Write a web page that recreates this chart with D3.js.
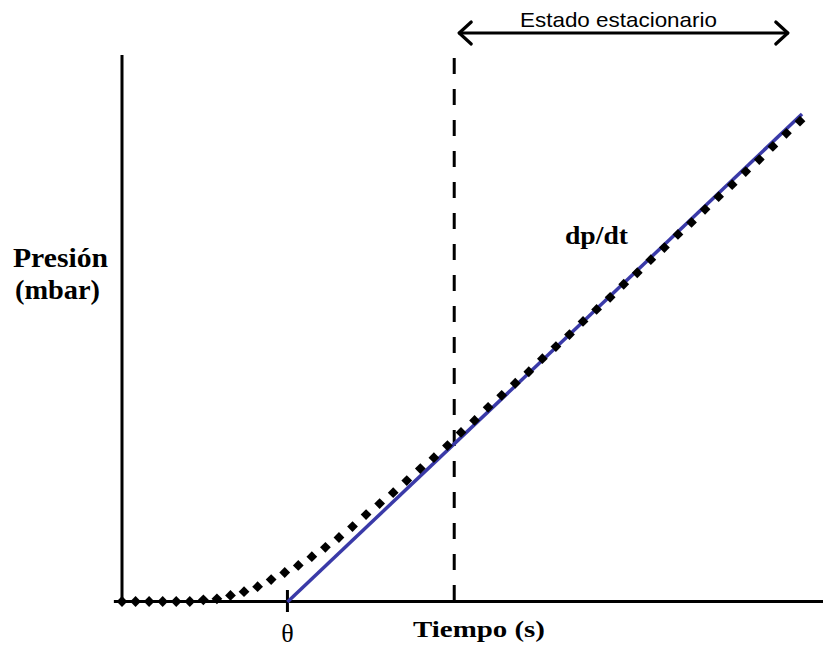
<!DOCTYPE html>
<html>
<head>
<meta charset="utf-8">
<script src="https://cdn.jsdelivr.net/npm/d3@7"></script>
<style>
  html, body { margin: 0; padding: 0; background: #fff; }
  svg { display: block; }
</style>
</head>
<body>
<svg id="chart" width="823" height="649"></svg>
<script>
// Measured pressure rise (arbitrary units) at equally spaced times
const times = d3.range(0, 51);
const pressure = [
  0, 0, 0, 0, 0, 0, 0.3, 0.5, 1.1, 1.8,
  2.7, 4.0, 5.3, 6.6, 8.2, 9.9, 11.7, 13.7, 15.9, 17.9,
  19.9, 22.1, 24.3, 26.3, 28.5, 30.9, 33.1, 35.5, 37.7, 39.9,
  42.0, 44.4, 46.6, 48.8, 51.2, 53.4, 55.6, 58.0, 60.1, 62.5,
  64.7, 67.1, 69.3, 71.7, 74.0, 76.2, 78.6, 80.8, 83.2, 85.6,
  87.8
];
// Steady-state tangent: starts at the time lag theta on the time axis
const tangentTimes = [12.2, 50.15];
const tangentPressure = [0, 89.2];
// Start of the steady state
const steadyStart = 24.5;
const steadyEnd = 49.1;

const svg = d3.select("#chart");
const x = d3.scaleLinear().domain([0, 50]).range([122, 800]);
const y = d3.scaleLinear().domain([0, 100]).range([602, 55]);

// Axes
svg.append("line")
  .attr("x1", x(0)).attr("x2", x(0))
  .attr("y1", y(100)).attr("y2", y(0))
  .attr("stroke", "#000").attr("stroke-width", 3);
svg.append("line")
  .attr("x1", x(-0.6)).attr("x2", 823)
  .attr("y1", y(0) - 0.5).attr("y2", y(0) - 0.5)
  .attr("stroke", "#000").attr("stroke-width", 3);

// Theta tick
svg.append("line")
  .attr("x1", x(tangentTimes[0])).attr("x2", x(tangentTimes[0]))
  .attr("y1", y(0) - 12).attr("y2", y(0) + 10)
  .attr("stroke", "#000").attr("stroke-width", 3);

// Steady-state boundary (dashed)
svg.append("line")
  .attr("x1", x(steadyStart)).attr("x2", x(steadyStart))
  .attr("y1", y(0) - 1).attr("y2", y(102))
  .attr("stroke", "#000").attr("stroke-width", 3)
  .attr("stroke-dasharray", "16,15");

// Tangent line dp/dt
const tangent = tangentTimes.map((t, i) => [t, tangentPressure[i]]);
svg.append("path")
  .attr("d", d3.line().x(d => x(d[0])).y(d => y(d[1]))(tangent))
  .attr("fill", "none")
  .attr("stroke", "#3a3aa8")
  .attr("stroke-width", 3.5);

// Pressure data points as diamonds
const sym = d3.symbol().type(d3.symbolSquare).size(58);
svg.append("g").selectAll("path")
  .data(times.map((t, i) => [t, pressure[i]]))
  .join("path")
  .attr("d", sym)
  .attr("transform", d => `translate(${x(d[0])},${y(d[1]) - 0.5}) rotate(45)`)
  .attr("fill", "#000");

// Double-headed arrow over the steady-state region
const ay = 33;
const ax1 = x(steadyStart) + 5, ax2 = x(steadyEnd);
const arrow = svg.append("g")
  .attr("stroke", "#000").attr("stroke-width", 3.2)
  .attr("fill", "none").attr("stroke-linecap", "round").attr("stroke-linejoin", "round");
arrow.append("line").attr("x1", ax1).attr("x2", ax2).attr("y1", ay).attr("y2", ay);
arrow.append("path").attr("d", `M${ax1 + 12},${ay - 11} L${ax1},${ay} L${ax1 + 12},${ay + 11}`);
arrow.append("path").attr("d", `M${ax2 - 12},${ay - 11} L${ax2},${ay} L${ax2 - 12},${ay + 11}`);

// Text
const serif = "'Liberation Serif', 'Times New Roman', serif";
const sans = "'Liberation Sans', Arial, sans-serif";

svg.append("text")
  .attr("x", 520).attr("y", 27)
  .attr("font-family", sans).attr("font-size", 21)
  .attr("textLength", 197).attr("lengthAdjust", "spacingAndGlyphs")
  .text("Estado estacionario");

svg.append("text")
  .attr("x", 565).attr("y", 244)
  .attr("font-family", serif).attr("font-weight", "bold").attr("font-size", 26)
  .attr("textLength", 63).attr("lengthAdjust", "spacingAndGlyphs")
  .text("dp/dt");

svg.append("text")
  .attr("x", 13).attr("y", 267)
  .attr("font-family", serif).attr("font-weight", "bold").attr("font-size", 27)
  .attr("textLength", 95).attr("lengthAdjust", "spacingAndGlyphs")
  .text("Presión");
svg.append("text")
  .attr("x", 15).attr("y", 299)
  .attr("font-family", serif).attr("font-weight", "bold").attr("font-size", 27)
  .attr("textLength", 85).attr("lengthAdjust", "spacingAndGlyphs")
  .text("(mbar)");

svg.append("text")
  .attr("x", 413).attr("y", 637)
  .attr("font-family", serif).attr("font-weight", "bold").attr("font-size", 24)
  .attr("textLength", 132).attr("lengthAdjust", "spacingAndGlyphs")
  .text("Tiempo (s)");

svg.append("text")
  .attr("x", x(tangentTimes[0])).attr("y", 642)
  .attr("text-anchor", "middle")
  .attr("font-family", serif).attr("font-size", 26)
  .text("θ");
</script>
</body>
</html>
